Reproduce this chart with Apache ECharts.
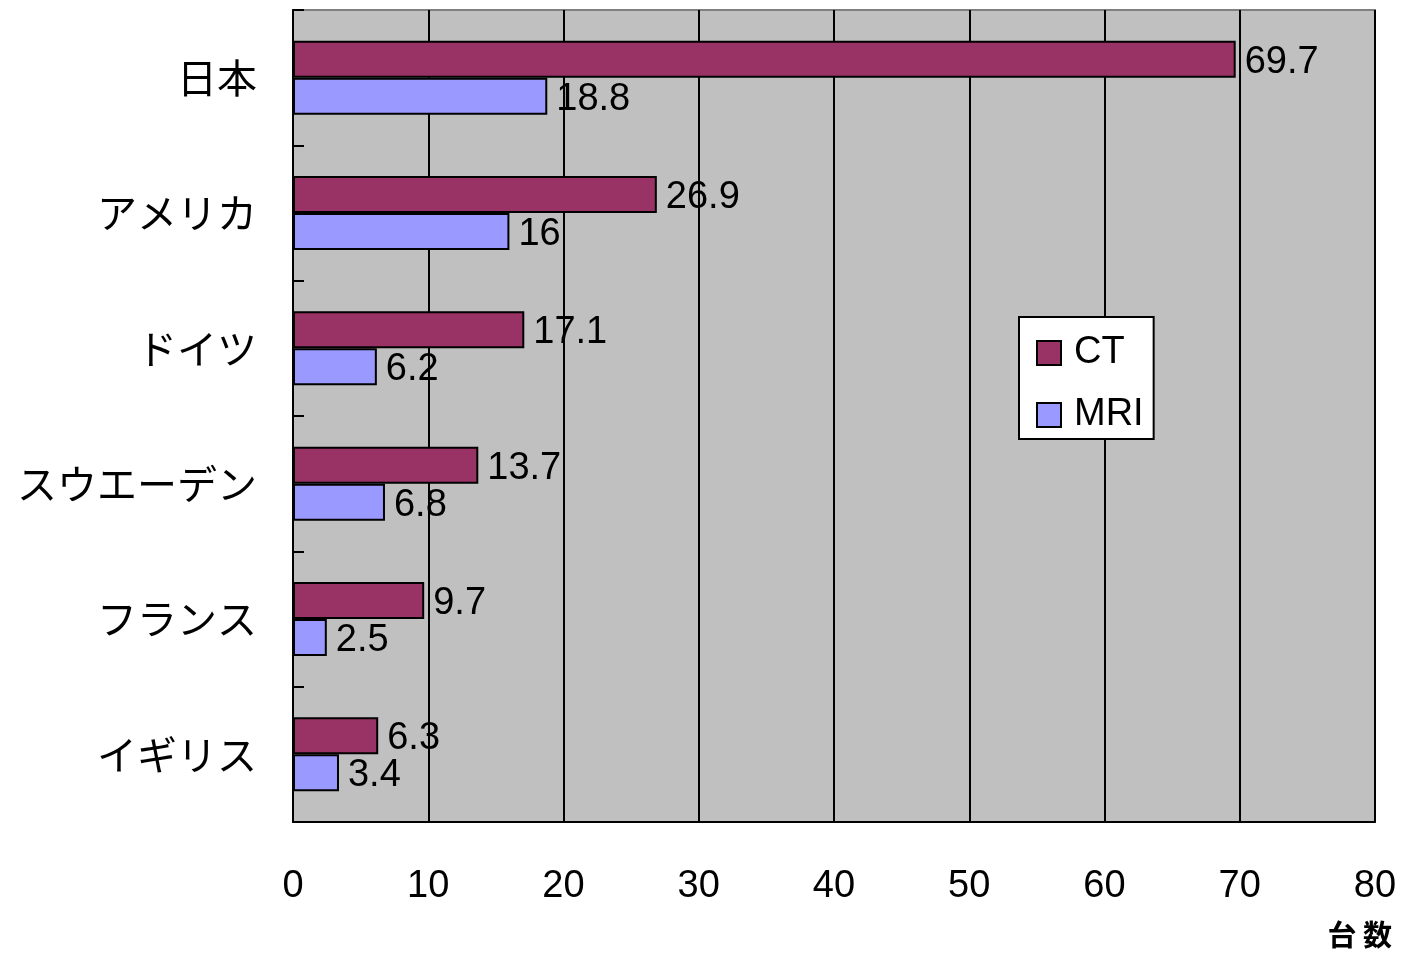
<!DOCTYPE html>
<html>
<head>
<meta charset="utf-8">
<script src="https://cdn.jsdelivr.net/npm/echarts@6/dist/echarts.min.js"></script>
<style>
  html, body { margin: 0; padding: 0; background: #fff; }
  #chart { width: 1401px; height: 956px; }
</style>
</head>
<body>
<div id="chart"></div>
<script>
// CT / MRI units per million population, by country
const countries = ['日本', 'アメリカ', 'ドイツ', 'スウエーデン', 'フランス', 'イギリス'];
const ctValues = [69.7, 26.9, 17.1, 13.7, 9.7, 6.3];
const mriValues = [18.8, 16, 6.2, 6.8, 2.5, 3.4];
const xTicks = { min: 0, max: 80, interval: 10 };

const FONT = '"Liberation Sans", "Noto Sans CJK JP", sans-serif';
const CJK = '"Noto Sans CJK JP", sans-serif';

const chart = echarts.init(document.getElementById('chart'), null, { renderer: 'canvas' });

const labelStyle = {
  show: true,
  position: 'right',
  distance: 9,
  color: '#000',
  fontSize: 38,
  fontFamily: FONT,
  offset: [0, 3]
};

chart.setOption({
  animation: false,
  backgroundColor: '#fff',
  grid: {
    left: 293, top: 10, right: 26, bottom: 134,
    show: true,
    backgroundColor: '#C0C0C0',
    borderColor: '#808080',
    borderWidth: 2
  },
  legend: {
    orient: 'vertical',
    left: 1019, top: 317,
    backgroundColor: '#fff',
    borderColor: '#000',
    borderWidth: 2,
    borderRadius: 0,
    padding: [17, 10, 5, 17],
    itemWidth: 24, itemHeight: 24,
    itemGap: 24,
    icon: 'rect',
    textStyle: { fontSize: 38, fontFamily: FONT, color: '#000', padding: [0, 0, 0, 8] },
    itemStyle: { borderColor: '#000', borderWidth: 2 },
    data: ['CT', 'MRI']
  },
  xAxis: {
    type: 'value',
    min: xTicks.min, max: xTicks.max, interval: xTicks.interval,
    axisLine: { show: true, lineStyle: { color: '#000', width: 2 } },
    axisTick: { show: false },
    axisLabel: { color: '#000', fontSize: 38, fontFamily: FONT, margin: 46 },
    splitLine: { show: true, lineStyle: { color: '#000', width: 2 } }
  },
  yAxis: {
    type: 'category',
    inverse: true,
    data: countries,
    axisLine: { show: true, lineStyle: { color: '#000', width: 2 } },
    axisTick: { show: true, inside: true, length: 11, lineStyle: { color: '#000', width: 2 } },
    axisLabel: { color: '#000', fontSize: 40, fontFamily: CJK, margin: 36 },
    splitLine: { show: false }
  },
  graphic: [{
    type: 'text',
    right: 9, top: 920,
    style: { text: '台 数', font: 'bold 29px ' + CJK, fill: '#000' }
  }],
  series: [
    {
      name: 'CT',
      type: 'bar',
      data: ctValues,
      barWidth: 37,
      barGap: '0%',
      itemStyle: { color: '#993366', borderColor: '#000', borderWidth: 2 },
      label: labelStyle
    },
    {
      name: 'MRI',
      type: 'bar',
      data: mriValues,
      barWidth: 37,
      barGap: '0%',
      itemStyle: { color: '#9999FF', borderColor: '#000', borderWidth: 2 },
      label: labelStyle
    }
  ]
});
</script>
</body>
</html>
